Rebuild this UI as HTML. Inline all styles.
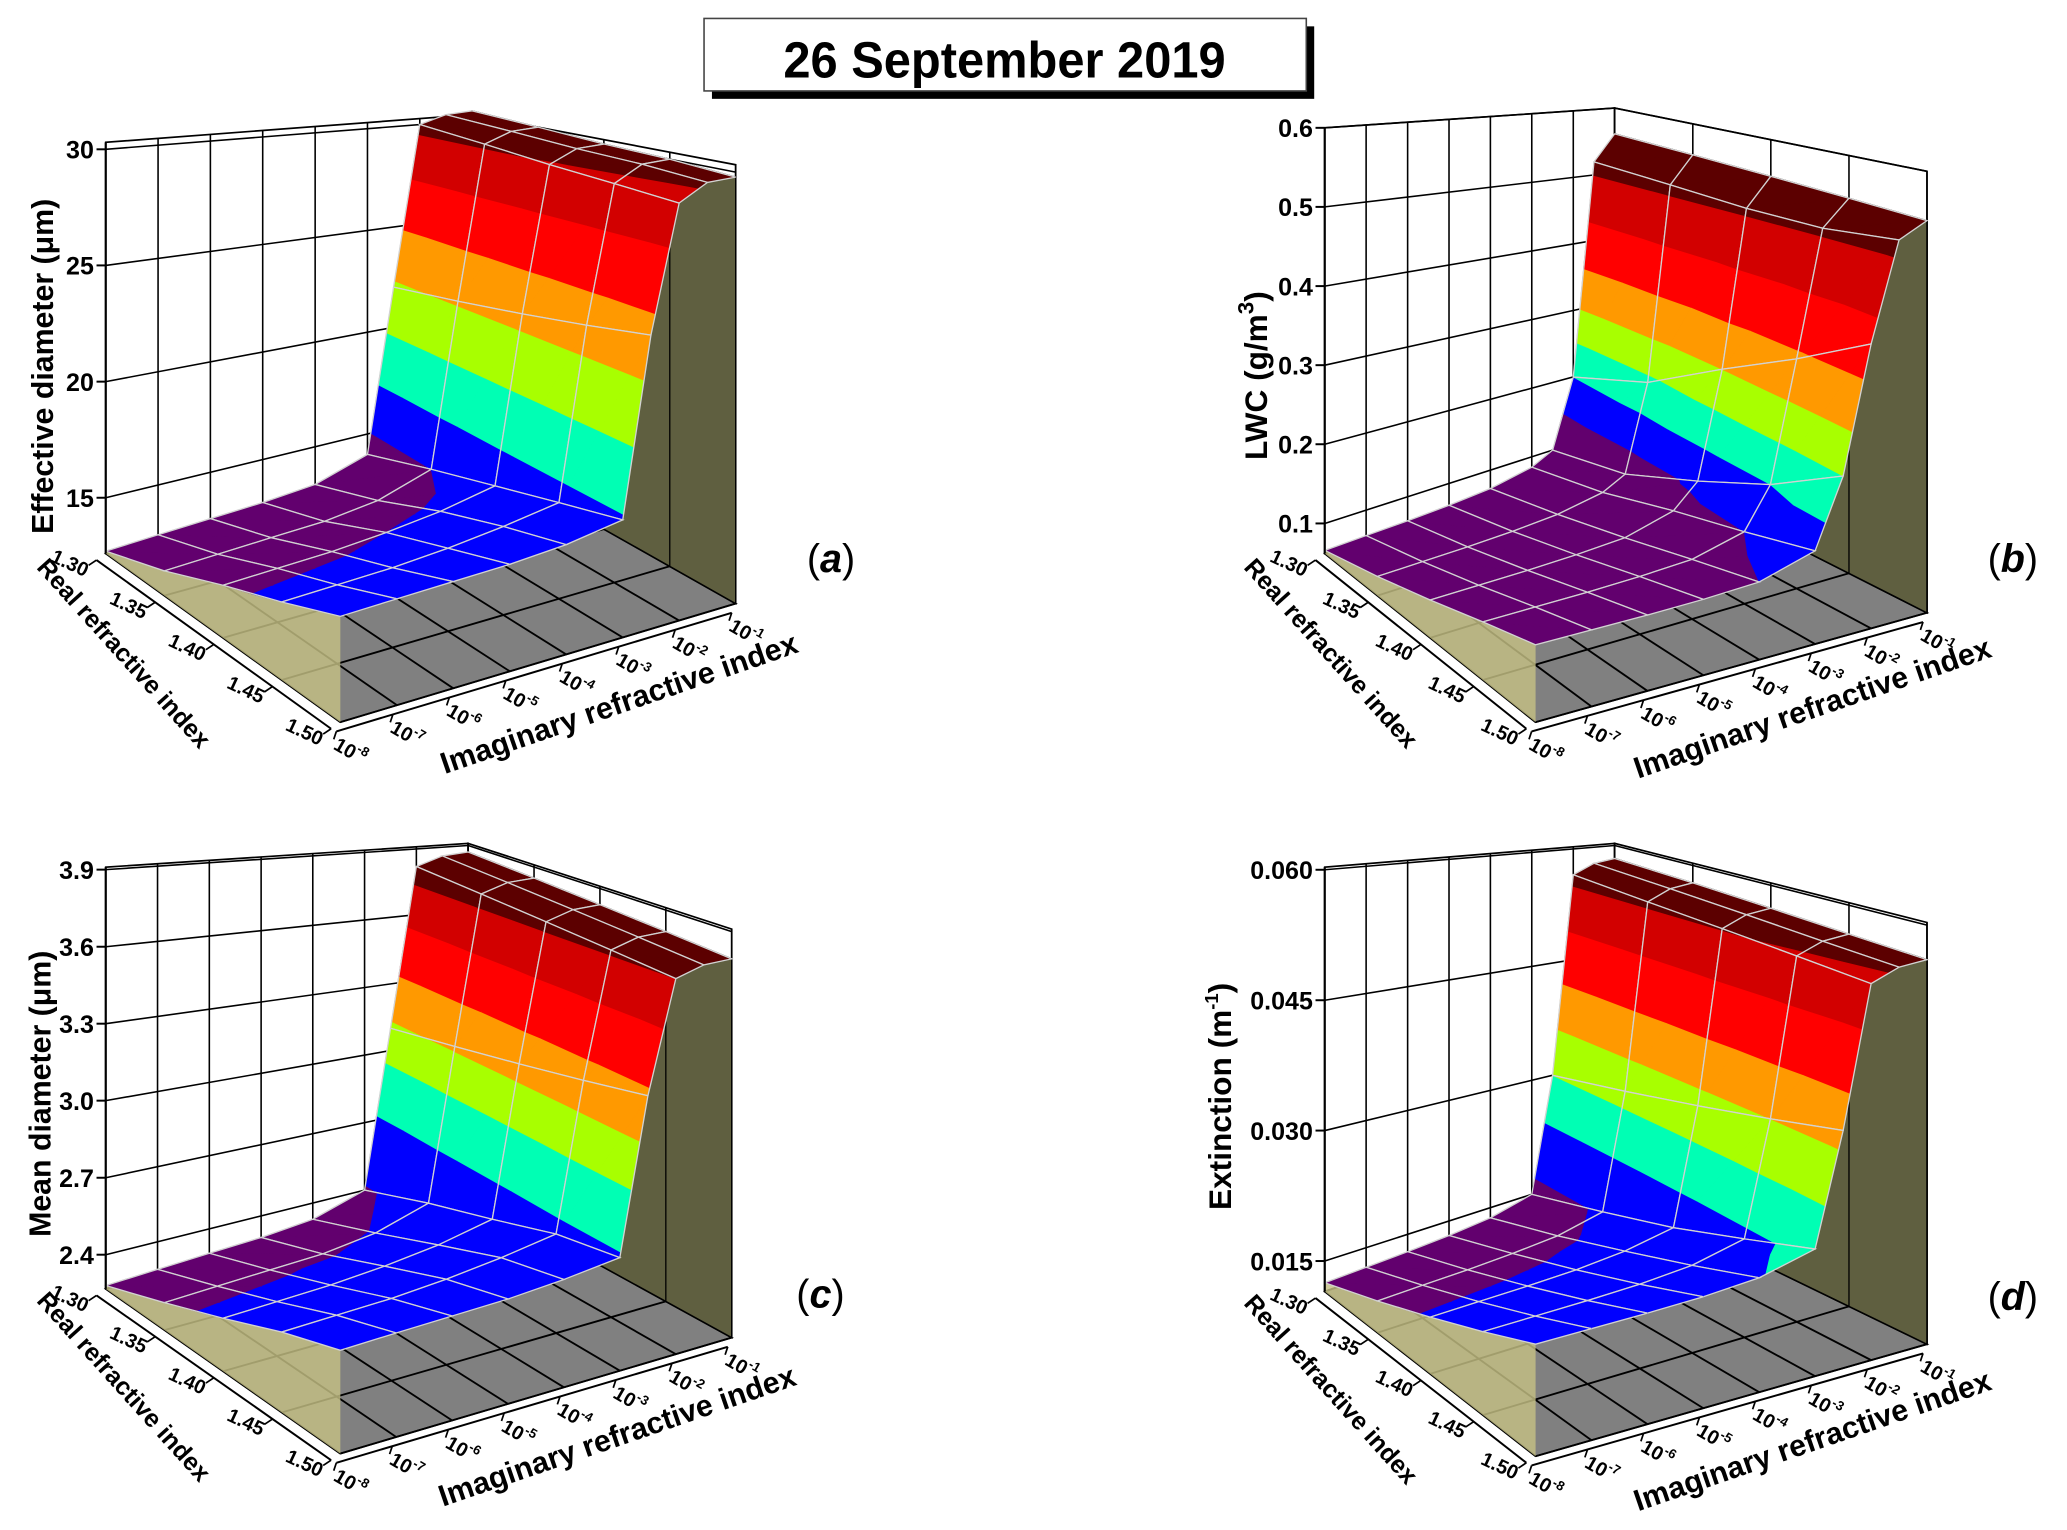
<!DOCTYPE html>
<html><head><meta charset="utf-8"><style>
html,body{margin:0;padding:0;background:#fff;}
svg{display:block;font-family:"Liberation Sans",Arial,sans-serif;font-weight:bold;}
</style></head><body>
<svg id="fig" width="2067" height="1530" viewBox="0 0 1568 1161" xmlns="http://www.w3.org/2000/svg">
<rect x="0" y="0" width="1568" height="1161" fill="#fff"/>
<g>
<rect x="540" y="20" width="457" height="55" fill="#000"/>
<rect x="534" y="14" width="457" height="55" fill="#fff" stroke="#444" stroke-width="1.2"/>
<text x="762" y="59" text-anchor="middle" font-size="39" transform="translate(762 0) scale(0.95 1) translate(-762 0)">26 September 2019</text>
</g>
<g id="pa"></g>
<g id="pb"></g>
<g id="pc"></g>
<g id="pd"></g>
<text transform="translate(40 278) rotate(-90)" text-anchor="middle" font-size="23">Effective diameter (μm)</text>
<text transform="translate(961 285) rotate(-90)" text-anchor="middle" font-size="24">LWC (g/m<tspan dy="-10" font-size="17">3</tspan><tspan dy="10">)</tspan></text>
<text transform="translate(38 830) rotate(-90)" text-anchor="middle" font-size="23">Mean diameter (μm)</text>
<text transform="translate(934 832) rotate(-90)" text-anchor="middle" font-size="24">Extinction (m<tspan dy="-10" font-size="14">-1</tspan><tspan dy="10">)</tspan></text>
<text x="612" y="434" font-size="30" font-weight="normal">(<tspan font-style="italic" font-weight="bold">a</tspan>)</text>
<text x="1508" y="434" font-size="30" font-weight="normal">(<tspan font-style="italic" font-weight="bold">b</tspan>)</text>
<text x="604" y="992" font-size="30" font-weight="normal">(<tspan font-style="italic" font-weight="bold">c</tspan>)</text>
<text x="1508" y="994" font-size="30" font-weight="normal">(<tspan font-style="italic" font-weight="bold">d</tspan>)</text>
</svg>
<script>
// ---- data ----
const realVals=[1.30,1.35,1.40,1.45,1.50];
const realTickLabels=['1.30','1.35','1.40','1.45','1.50'];
const imagExp=[-8,-7,-6,-5,-4,-3,-2.5,-2,-1.5,-1];
const imagTickExp=[-8,-7,-6,-5,-4,-3,-2,-1];
const zA=[
[12.7,12.8,12.9,13.0,13.2,14.0,22.0,30.0,30.4,30.5],
[13.6,13.7,13.8,13.9,14.2,15.0,22.5,29.7,30.2,30.3],
[14.6,14.7,14.8,15.0,15.3,15.8,23.0,29.4,30.0,30.1],
[15.4,15.5,15.6,15.8,16.1,16.5,23.5,29.2,29.9,30.0],
[16.2,16.3,16.4,16.5,16.7,17.1,24.0,29.0,29.7,29.8]];
const zB=[
[0.066,0.067,0.068,0.070,0.074,0.085,0.100,0.200,0.520,0.560],
[0.085,0.086,0.087,0.089,0.093,0.104,0.120,0.240,0.515,0.555],
[0.105,0.106,0.107,0.109,0.113,0.130,0.160,0.300,0.510,0.550],
[0.125,0.126,0.127,0.129,0.133,0.150,0.200,0.350,0.510,0.545],
[0.142,0.143,0.144,0.146,0.150,0.170,0.250,0.400,0.520,0.540]];
const zC=[
[2.28,2.29,2.30,2.31,2.33,2.40,3.10,3.82,3.86,3.87],
[2.37,2.38,2.39,2.40,2.43,2.50,3.15,3.80,3.84,3.85],
[2.46,2.47,2.48,2.50,2.53,2.58,3.20,3.78,3.82,3.83],
[2.55,2.56,2.57,2.59,2.62,2.66,3.25,3.76,3.80,3.81],
[2.62,2.63,2.64,2.65,2.67,2.70,3.30,3.74,3.78,3.79]];
const zD=[
[0.0125,0.0127,0.0129,0.0132,0.0137,0.0150,0.0300,0.0565,0.0578,0.0582],
[0.0150,0.0152,0.0154,0.0157,0.0162,0.0175,0.0320,0.0558,0.0572,0.0577],
[0.0175,0.0177,0.0179,0.0182,0.0188,0.0200,0.0340,0.0552,0.0566,0.0571],
[0.0200,0.0202,0.0204,0.0207,0.0213,0.0228,0.0360,0.0546,0.0560,0.0565],
[0.0225,0.0227,0.0229,0.0232,0.0238,0.0255,0.0380,0.0540,0.0555,0.0560]];
const ticksA=[15,20,25,30];
const tickLabelsA=['15','20','25','30'];
const ticksB=[0.1,0.2,0.3,0.4,0.5,0.6];
const tickLabelsB=['0.1','0.2','0.3','0.4','0.5','0.6'];
const ticksC=[2.4,2.7,3.0,3.3,3.6,3.9];
const tickLabelsC=['2.4','2.7','3.0','3.3','3.6','3.9'];
const ticksD=[0.015,0.030,0.045,0.060];
const tickLabelsD=['0.015','0.030','0.045','0.060'];
const levelsA=[15,17.3,19.8,22.3,24.8,27.3,29.5];
const levelsB=[0.15,0.2,0.25,0.3,0.36,0.43,0.5];
const levelsC=[2.42,2.72,2.95,3.13,3.33,3.55,3.74];
const levelsD=[0.017,0.024,0.030,0.036,0.042,0.049,0.055];
const bandColors=['#62006e','#0000ff','#00ffb4','#a8ff00','#ff9900','#ff0000','#d20000','#5c0000'];

const NS='http://www.w3.org/2000/svg';
function mk(tag,attrs,parent){const e=document.createElementNS(NS,tag);for(const k in attrs)e.setAttribute(k,attrs[k]);parent.appendChild(e);return e;}
function pts(a){return a.map(p=>p[0].toFixed(1)+','+p[1].toFixed(1)).join(' ');}
function clip(poly,f){const out=[];for(let i=0;i<poly.length;i++){const a=poly[i],b=poly[(i+1)%poly.length];const fa=f(a),fb=f(b);
 if(fa>=0)out.push(a);
 if((fa>=0)!==(fb>=0)){const t=fa/(fa-fb);out.push({u:a.u+t*(b.u-a.u),v:a.v+t*(b.v-a.v),z:a.z+t*(b.z-a.z)});}}return out;}

function drawPanel(id,geo,Z,ticks,tickLabels,levels){
 const g=document.getElementById(id);
 const zf=geo.zf,zt=geo.zt;
 const P=(u,v,z)=>{const w=[(1-u)*(1-v),u*(1-v),u*v,(1-u)*v];const C=[geo.A,geo.B,geo.C,geo.D];
  let x=0,y=0,s=0;for(let k=0;k<4;k++){x+=w[k]*C[k][0];y+=w[k]*C[k][1];s+=w[k]*geo.s[k];}
  const h=(z-zf)/(zt-zf);return [x,y-h*s];};
 const U=r=>(r-1.30)/0.2, V=e=>(e+8)/7;
 const line=(p,q,st,sw,name)=>{const l=mk('line',{x1:p[0].toFixed(1),y1:p[1].toFixed(1),x2:q[0].toFixed(1),y2:q[1].toFixed(1),stroke:st,'stroke-width':sw},g);
  
  return l;};
 const wl=mk('polygon',{points:pts([P(0,0,zf),P(0,1,zf),P(0,1,zt),P(0,0,zt)]),fill:'#fff',stroke:'#000','stroke-width':1.3},g);
 
 
 const wr=mk('polygon',{points:pts([P(0,1,zf),P(1,1,zf),P(1,1,zt),P(0,1,zt)]),fill:'#fff',stroke:'#000','stroke-width':1.3},g);
 
 
 imagTickExp.forEach(e=>line(P(0,V(e),zf),P(0,V(e),zt),'#000',1.2,'left-wall-gridline'));
 realVals.forEach(r=>line(P(U(r),1,zf),P(U(r),1,zt),'#000',1.2,'right-wall-gridline'));
 ticks.forEach(z=>{line(P(0,0,z),P(0,1,z),'#000',1.2,'left-wall-gridline');line(P(0,1,z),P(1,1,z),'#000',1.2,'right-wall-gridline');});
 const fl=mk('polygon',{points:pts([P(0,0,zf),P(1,0,zf),P(1,1,zf),P(0,1,zf)]),fill:'#808080',stroke:'#000','stroke-width':1.3},g);
 
 
 imagTickExp.forEach(e=>line(P(0,V(e),zf),P(1,V(e),zf),'#000',1.4,'floor-gridline'));
 realVals.forEach(r=>line(P(U(r),0,zf),P(U(r),1,zf),'#000',1.4,'floor-gridline'));
 const nI=imagExp.length,nR=realVals.length;
 let fp=[P(0,0,zf),P(1,0,zf)];for(let i=nR-1;i>=0;i--)fp.push(P(U(realVals[i]),0,Z[i][0]));
 const kf=mk('polygon',{points:pts(fp),fill:'#c4c084','fill-opacity':0.82},g);
 
 
 let op=[P(0,1,zf),P(1,1,zf)];for(let i=nR-1;i>=0;i--)op.push(P(U(realVals[i]),1,Z[i][nI-1]));
 const of=mk('polygon',{points:pts(op),fill:'#5f5f40',stroke:'#000','stroke-width':1},g);
 
 
 realVals.forEach((r,i)=>line(P(U(r),1,zf),P(U(r),1,Z[i][nI-1]),'#000',1,'side-face-gridline'));
 const cells=[];for(let i=0;i<nR-1;i++)for(let j=0;j<nI-1;j++)cells.push([i,j]);
 cells.sort((a,b)=>(U(realVals[a[0]])-V(imagExp[a[1]]))-(U(realVals[b[0]])-V(imagExp[b[1]])));
 const bounds=[-1e9].concat(levels).concat([1e9]);
 cells.forEach(([i,j])=>{
  const q=[[i,j],[i+1,j],[i+1,j+1],[i,j+1]].map(([a,b])=>({u:U(realVals[a]),v:V(imagExp[b]),z:Z[a][b]}));
  [[q[0],q[1],q[2]],[q[0],q[2],q[3]]].forEach(tri=>{
   for(let k=0;k<bounds.length-1;k++){
    const lo=bounds[k],hi=bounds[k+1];
    let pp=clip(tri,p=>p.z-lo);if(pp.length<3)continue;
    pp=clip(pp,p=>hi-p.z);if(pp.length<3)continue;
    const poly=mk('polygon',{points:pts(pp.map(p=>P(p.u,p.v,p.z))),fill:bandColors[k],stroke:bandColors[k],'stroke-width':0.6,'stroke-linejoin':'round'},g);
    
    
   }
  });
  const cp=q.map(p=>P(p.u,p.v,p.z));
  const ol=mk('polygon',{points:pts(cp),fill:'none',stroke:'#d2d2d2','stroke-width':1},g);
  
  
 });
 line(P(0,0,zf),P(0,0,zt),'#000',1.6,'z-axis-line');
 ticks.forEach((z,k)=>{const p=P(0,0,z);line([p[0]-7,p[1]],p,'#000',1.5,'z-axis-tick');
  const t=mk('text',{x:(p[0]-9).toFixed(1),y:(p[1]+7).toFixed(1),'text-anchor':'end','font-size':19},g);
  
  
  t.textContent=tickLabels[k];});
 const ro=[-7,5];
 line([P(0,0,zf)[0]+ro[0],P(0,0,zf)[1]+ro[1]],[P(1,0,zf)[0]+ro[0],P(1,0,zf)[1]+ro[1]],'#000',1.5,'real-axis-line');
 realVals.forEach((r,k)=>{const p=P(U(r),0,zf);const a=[p[0]+ro[0],p[1]+ro[1]];line(a,[a[0]-6,a[1]+4],'#000',1.3,'real-axis-tick');
  const t=mk('text',{x:0,y:0,'text-anchor':'end','font-size':15,transform:`translate(${(a[0]-9).toFixed(1)} ${(a[1]+13).toFixed(1)}) rotate(25)`},g);
  
  
  t.textContent=realTickLabels[k];});
 const io=[-3,7];
 line([P(1,0,zf)[0]+io[0],P(1,0,zf)[1]+io[1]],[P(1,1,zf)[0]+io[0],P(1,1,zf)[1]+io[1]],'#000',1.5,'imag-axis-line');
 imagTickExp.forEach(e=>{const p=P(1,V(e),zf);const a=[p[0]+io[0],p[1]+io[1]];line(a,[a[0]-2,a[1]+6],'#000',1.3,'imag-axis-tick');
  const t=mk('text',{x:0,y:0,'font-size':15,transform:`translate(${(a[0]-3).toFixed(1)} ${(a[1]+13).toFixed(1)}) rotate(30)`},g);
  
  
  t.textContent='10';
  const s=mk('tspan',{dy:-7,'font-size':10},t);s.textContent=String(e);});
 const mab=P(0.5,0,zf);
 const rt=mk('text',{x:0,y:0,'text-anchor':'middle','font-size':19,transform:`translate(${(mab[0]-80).toFixed(1)} ${(mab[1]+16).toFixed(1)}) rotate(48)`},g);
 
 
 rt.textContent='Real refractive index';
 const mbc=P(1,0.5,zf);
 const it=mk('text',{x:0,y:0,'text-anchor':'middle','font-size':23,transform:`translate(${(mbc[0]+64).toFixed(1)} ${(mbc[1]+38).toFixed(1)}) rotate(-19)`},g);
 
 
 it.textContent='Imaginary refractive index';
}

drawPanel('pa',{A:[80,420],B:[258,548],C:[558,458],D:[358,345],s:[312,395,333,258],zf:12.6,zt:30.3},zA,ticksA,tickLabelsA,levelsA);
drawPanel('pb',{A:[1005,420],B:[1165,548],C:[1462,465],D:[1225,345],s:[323,395,335,263],zf:0.062,zt:0.6},zB,ticksB,tickLabelsB,levelsB);
drawPanel('pc',{A:[80,978],B:[258,1103],C:[555,1015],D:[355,905],s:[320,365,310,265],zf:2.267,zt:3.91},zC,ticksC,tickLabelsC,levelsC);
drawPanel('pd',{A:[1005,980],B:[1165,1105],C:[1462,1020],D:[1225,905],s:[322,377,320,265],zf:0.0115,zt:0.0603},zD,ticksD,tickLabelsD,levelsD);
</script>
</body></html>
